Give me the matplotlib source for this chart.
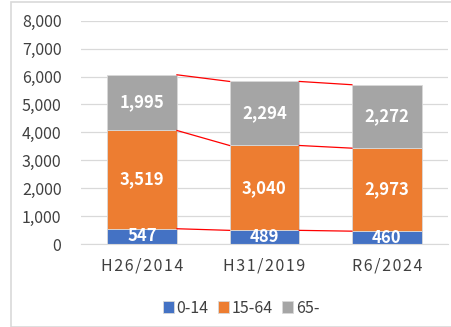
import numpy as np
import matplotlib.pyplot as plt
from matplotlib.patches import Rectangle

plt.rcParams['font.family'] = ['Noto Sans CJK JP', 'DejaVu Sans']

years = ["H26/2014", "H31/2019", "R6/2024"]
groups = ["0-14", "15-64", "65-"]
age_0_14 = [547, 489, 460]
age_15_64 = [3519, 3040, 2973]
age_65 = [1995, 2294, 2272]
colors = ["#4472C4", "#ED7D31", "#A5A5A5"]

fig = plt.figure(figsize=(4.52, 3.27), dpi=100)
ax = fig.add_axes([0.179, 0.2538, 0.812, 0.683])

x = np.arange(len(years))
w = 0.57
series = [age_0_14, age_15_64, age_65]
bottom = np.zeros(len(years))
tops = []
for vals, col, name in zip(series, colors, groups):
    vals = np.array(vals)
    ax.bar(x, vals, w, bottom=bottom, color=col, label=name,
           edgecolor="#D9D9D9", linewidth=0.6, zorder=2)
    for xi, b, v in zip(x, bottom, vals):
        ax.text(xi, b + v / 2, f"{v:,}", ha="center", va="center",
                color="white", fontsize=12, fontweight="bold", zorder=4)
    bottom = bottom + vals
    tops.append(bottom.copy())

# red connector lines between segment tops
for t in tops:
    for i in range(len(years) - 1):
        ax.plot([x[i] + w / 2, x[i + 1] - w / 2], [t[i], t[i + 1]],
                color="red", linewidth=0.9, zorder=3)

ax.set_xlim(-0.5, len(years) - 0.5)
ax.set_ylim(0, 8000)
ax.set_yticks(np.arange(0, 8001, 1000))
ax.set_yticklabels([f"{v:,}" for v in range(0, 8001, 1000)])
ax.set_xticks(x)
# spread the letters of the year labels a little
ax.set_xticklabels(["\u200a".join(y) for y in years])
ax.yaxis.grid(True, color="#D9D9D9", linewidth=0.9, zorder=0)
ax.set_axisbelow(True)
for s in ["top", "right", "left"]:
    ax.spines[s].set_visible(False)
ax.spines["bottom"].set_color("#D9D9D9")
ax.tick_params(axis="both", length=0, labelsize=11.5, colors="#404040")
ax.tick_params(axis="y", pad=14)
ax.tick_params(axis="x", pad=10)

fig.legend(loc="lower center", bbox_to_anchor=(0.533, -0.012), ncol=3, frameon=False,
           fontsize=11.5, handlelength=0.7, handleheight=0.7, handletextpad=0.15,
           columnspacing=0.6, labelcolor="#404040")

fig.patches.append(Rectangle((11 / 452, 0.0), 1.0, 1 - 1.5 / 327, transform=fig.transFigure,
                             fill=False, edgecolor="#D9D9D9", linewidth=1.2))

fig.savefig("out.png", dpi=100)
